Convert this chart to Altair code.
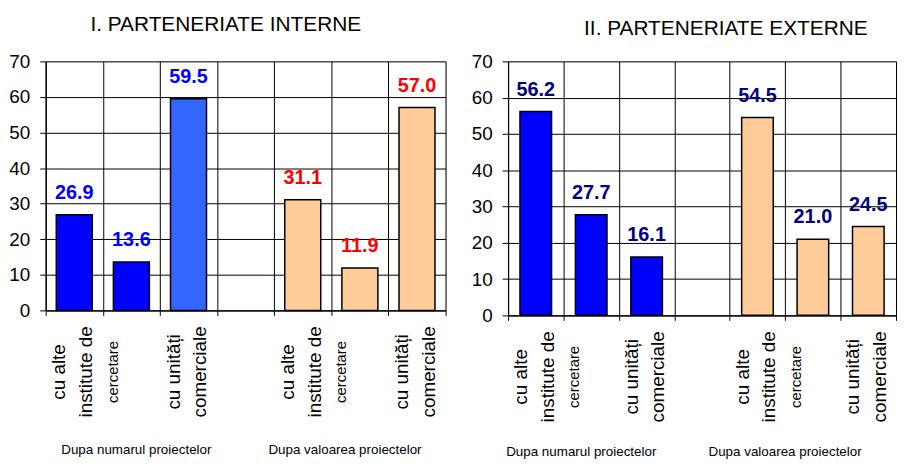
import altair as alt
import pandas as pd

FONT = "Liberation Sans, Arial, sans-serif"

slots = ["s1", "s2", "s3", "s4", "s5", "s6", "s7"]

intern_values = [26.9, 13.6, 59.5, None, 31.1, 11.9, 57.0]
extern_values = [56.2, 27.7, 16.1, None, 54.5, 21.0, 24.5]

intern_fill = ["#0000FF", "#0000FF", "#3366FF", None, "#FFCC99", "#FFCC99", "#FFCC99"]
extern_fill = ["#0000FF", "#0000FF", "#0000FF", None, "#FFCC99", "#FFCC99", "#FFCC99"]

intern_text_color = ["#0000FF", "#0000FF", "#0000FF", None, "#FF0000", "#FF0000", "#FF0000"]
extern_text_color = ["#000080", "#000080", "#000080", None, "#000080", "#000080", "#000080"]

line1 = ["cu alte", "", "cu unități", "", "cu alte", "", "cu unități"]
line2 = ["institute de", "", "comerciale", "", "institute de", "", "comerciale"]
line3 = ["cercetare", "", "", "", "cercetare", "", ""]

group_labels = ["Dupa numarul proiectelor", "Dupa valoarea proiectelor"]
group_slots = ["s2", "s6"]

titles = ["I. PARTENERIATE INTERNE", "II. PARTENERIATE EXTERNE"]
y_ticks = [0, 10, 20, 30, 40, 50, 60, 70]


def make_panel(values, fills, tcolors, title, title_dx, title_offset, width, height,
               bar_frac, gdx, gdy):
    bars = pd.DataFrame({"slot": slots, "value": values, "fill": fills, "tcolor": tcolors})
    bars = bars.dropna(subset=["value"])

    x_scale = alt.Scale(domain=slots, paddingInner=0, paddingOuter=0)
    x_axis = alt.Axis(
        labels=False, title=None, tickBand="extent", grid=True,
        gridColor="#000000", gridWidth=1, tickSize=5, tickColor="#000000",
        domainColor="#000000", domainWidth=1.2,
    )
    y_scale = alt.Scale(domain=[0, 70], nice=False, zero=True)
    y_axis = alt.Axis(
        values=y_ticks, title=None, labelFontSize=19, labelOverlap=False,
        labelFont=FONT, labelColor="#000000", labelPadding=10, tickSize=6,
        tickColor="#000000", gridColor="#000000", gridWidth=1,
        domainColor="#000000", domainWidth=1.2,
    )

    def X():
        return alt.X("slot:N", scale=x_scale, axis=x_axis)

    def Y(field):
        return alt.Y(f"{field}:Q", scale=y_scale, axis=y_axis)

    bar = alt.Chart(bars).mark_bar(
        width=alt.RelativeBandSize(bar_frac), stroke="#000000", strokeWidth=1.5
    ).encode(x=X(), y=Y("value"), color=alt.Color("fill:N", scale=None))

    vals = alt.Chart(bars).mark_text(
        font=FONT, fontSize=20, fontWeight="bold", baseline="alphabetic", dy=-16
    ).encode(
        x=X(), y=Y("value"),
        text=alt.Text("value:Q", format=".1f"),
        color=alt.Color("tcolor:N", scale=None),
    )

    def rot(lines, size, dy):
        df = pd.DataFrame({"slot": slots, "txt": lines, "zero": [0] * len(slots)})
        df = df[df["txt"] != ""]
        return alt.Chart(df).mark_text(
            font=FONT, fontSize=size, angle=270, align="center", baseline="middle",
            dx=-62, dy=dy, color="#000000",
        ).encode(x=X(), y=Y("zero"), text="txt:N")

    t1 = rot(line1, 19, -15)
    t2 = rot(line2, 19, 12)
    t3 = rot(line3, 15, 39)

    glayers = []
    for txt, s, d in zip(group_labels, group_slots, gdx):
        gdf = pd.DataFrame({"slot": [s], "txt": [txt], "zero": [0]})
        glayers.append(
            alt.Chart(gdf).mark_text(
                font=FONT, fontSize=13.5, baseline="middle", align="center",
                dx=d, dy=gdy, color="#000000",
            ).encode(x=X(), y=Y("zero"), text="txt:N")
        )

    return alt.layer(bar, vals, t1, t2, t3, *glayers).properties(
        width=width, height=height,
        title=alt.TitleParams(
            title, font=FONT, fontSize=21, fontWeight="normal", color="#000000",
            anchor="middle", dx=title_dx, offset=title_offset,
        ),
    )


left = make_panel(intern_values, intern_fill, intern_text_color, titles[0], -20, 18,
                  403, 251, 0.63, [5, -15], 141)
right = make_panel(extern_values, extern_fill, extern_text_color, titles[1], 24, 14,
                   391, 256, 0.57, [-10, -28], 138)

chart = alt.hconcat(left, right, spacing=24).properties(
    padding={"left": 0, "top": 3, "right": 0, "bottom": 0}
).configure_view(stroke="#808080", strokeWidth=1).configure(background="#FFFFFF")

chart.save("out.html", embed_options={"renderer": "svg", "actions": False})
